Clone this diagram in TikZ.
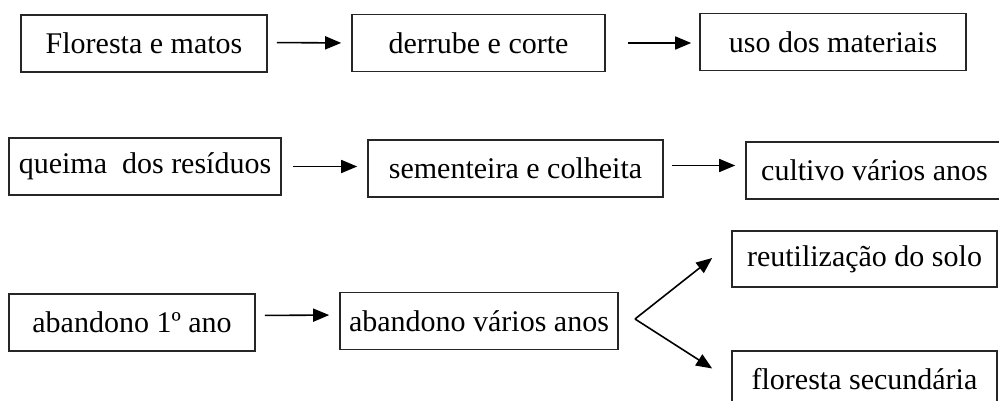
\documentclass[tikz,border=0pt]{standalone}
\usepackage{fontspec}
\setmainfont{Liberation Serif}
\usetikzlibrary{arrows.meta}
\usetikzlibrary{positioning}

\begin{document}
\begin{tikzpicture}[x=1pt,y=-1pt,-{Triangle[length=16pt,width=13pt]},line width=1.6pt,
    box node/.style={rectangle,draw=black!85,line width=1.6pt,inner sep=0pt,minimum height=57pt,font=\fontsize{30}{36}\selectfont}]
  \useasboundingbox (0,0) rectangle (999,401);
  % primeira fila
  \node[box node,minimum width=246pt] (floresta) at (144,43.5) {Floresta e matos};
  \node[box node,minimum width=253pt] (derrube) at (478.5,43) {derrube e corte};
  \node[box node,minimum width=266pt] (uso) at (833,42) {uso dos materiais};
  % segunda fila
  \node[box node,minimum width=272pt] (queima) at (145,166.5) {queima\ \ dos resíduos};
  \node[box node,minimum width=295pt] (sementeira) at (515.5,168.5) {sementeira e colheita};
  \node[box node,minimum width=257pt] (cultivo) at (874.5,170.5) {cultivo vários anos};
  % terceira fila
  \node[box node,minimum width=246pt] (abandono) at (132,322.5) {abandono 1º ano};
  \node[box node,minimum width=278pt] (varios) at (479,321) {abandono vários anos};
  \node[box node,minimum width=265pt,minimum height=56pt] (reuso) at (864.5,259) {reutilização do solo};
  \node[box node,minimum width=265pt] (secundaria) at (864.5,379.5) {floresta secundária};
  \coordinate (split) at (635,319);
  \path ([yshift=1pt]floresta.east) edge[shorten <=9pt,shorten >=10pt] (derrube.west);
  \path (derrube.east) edge[shorten <=22pt,shorten >=8pt] ([yshift=-1pt]uso.west);
  \path (queima.east) edge[shorten <=11pt,shorten >=10pt] ([yshift=2pt]sementeira.west);
  \path ([yshift=3pt]sementeira.east) edge[shorten <=8pt,shorten >=10pt] ([yshift=5pt]cultivo.west);
  \path ([yshift=7pt]abandono.east) edge[shorten <=9pt,shorten >=10pt] ([yshift=6pt]varios.west);
  \path (split) edge ([xshift=-19pt,yshift=1pt]reuso.west);
  \path (split) edge ([xshift=-19pt,yshift=11pt]secundaria.west);
\end{tikzpicture}
\end{document}
